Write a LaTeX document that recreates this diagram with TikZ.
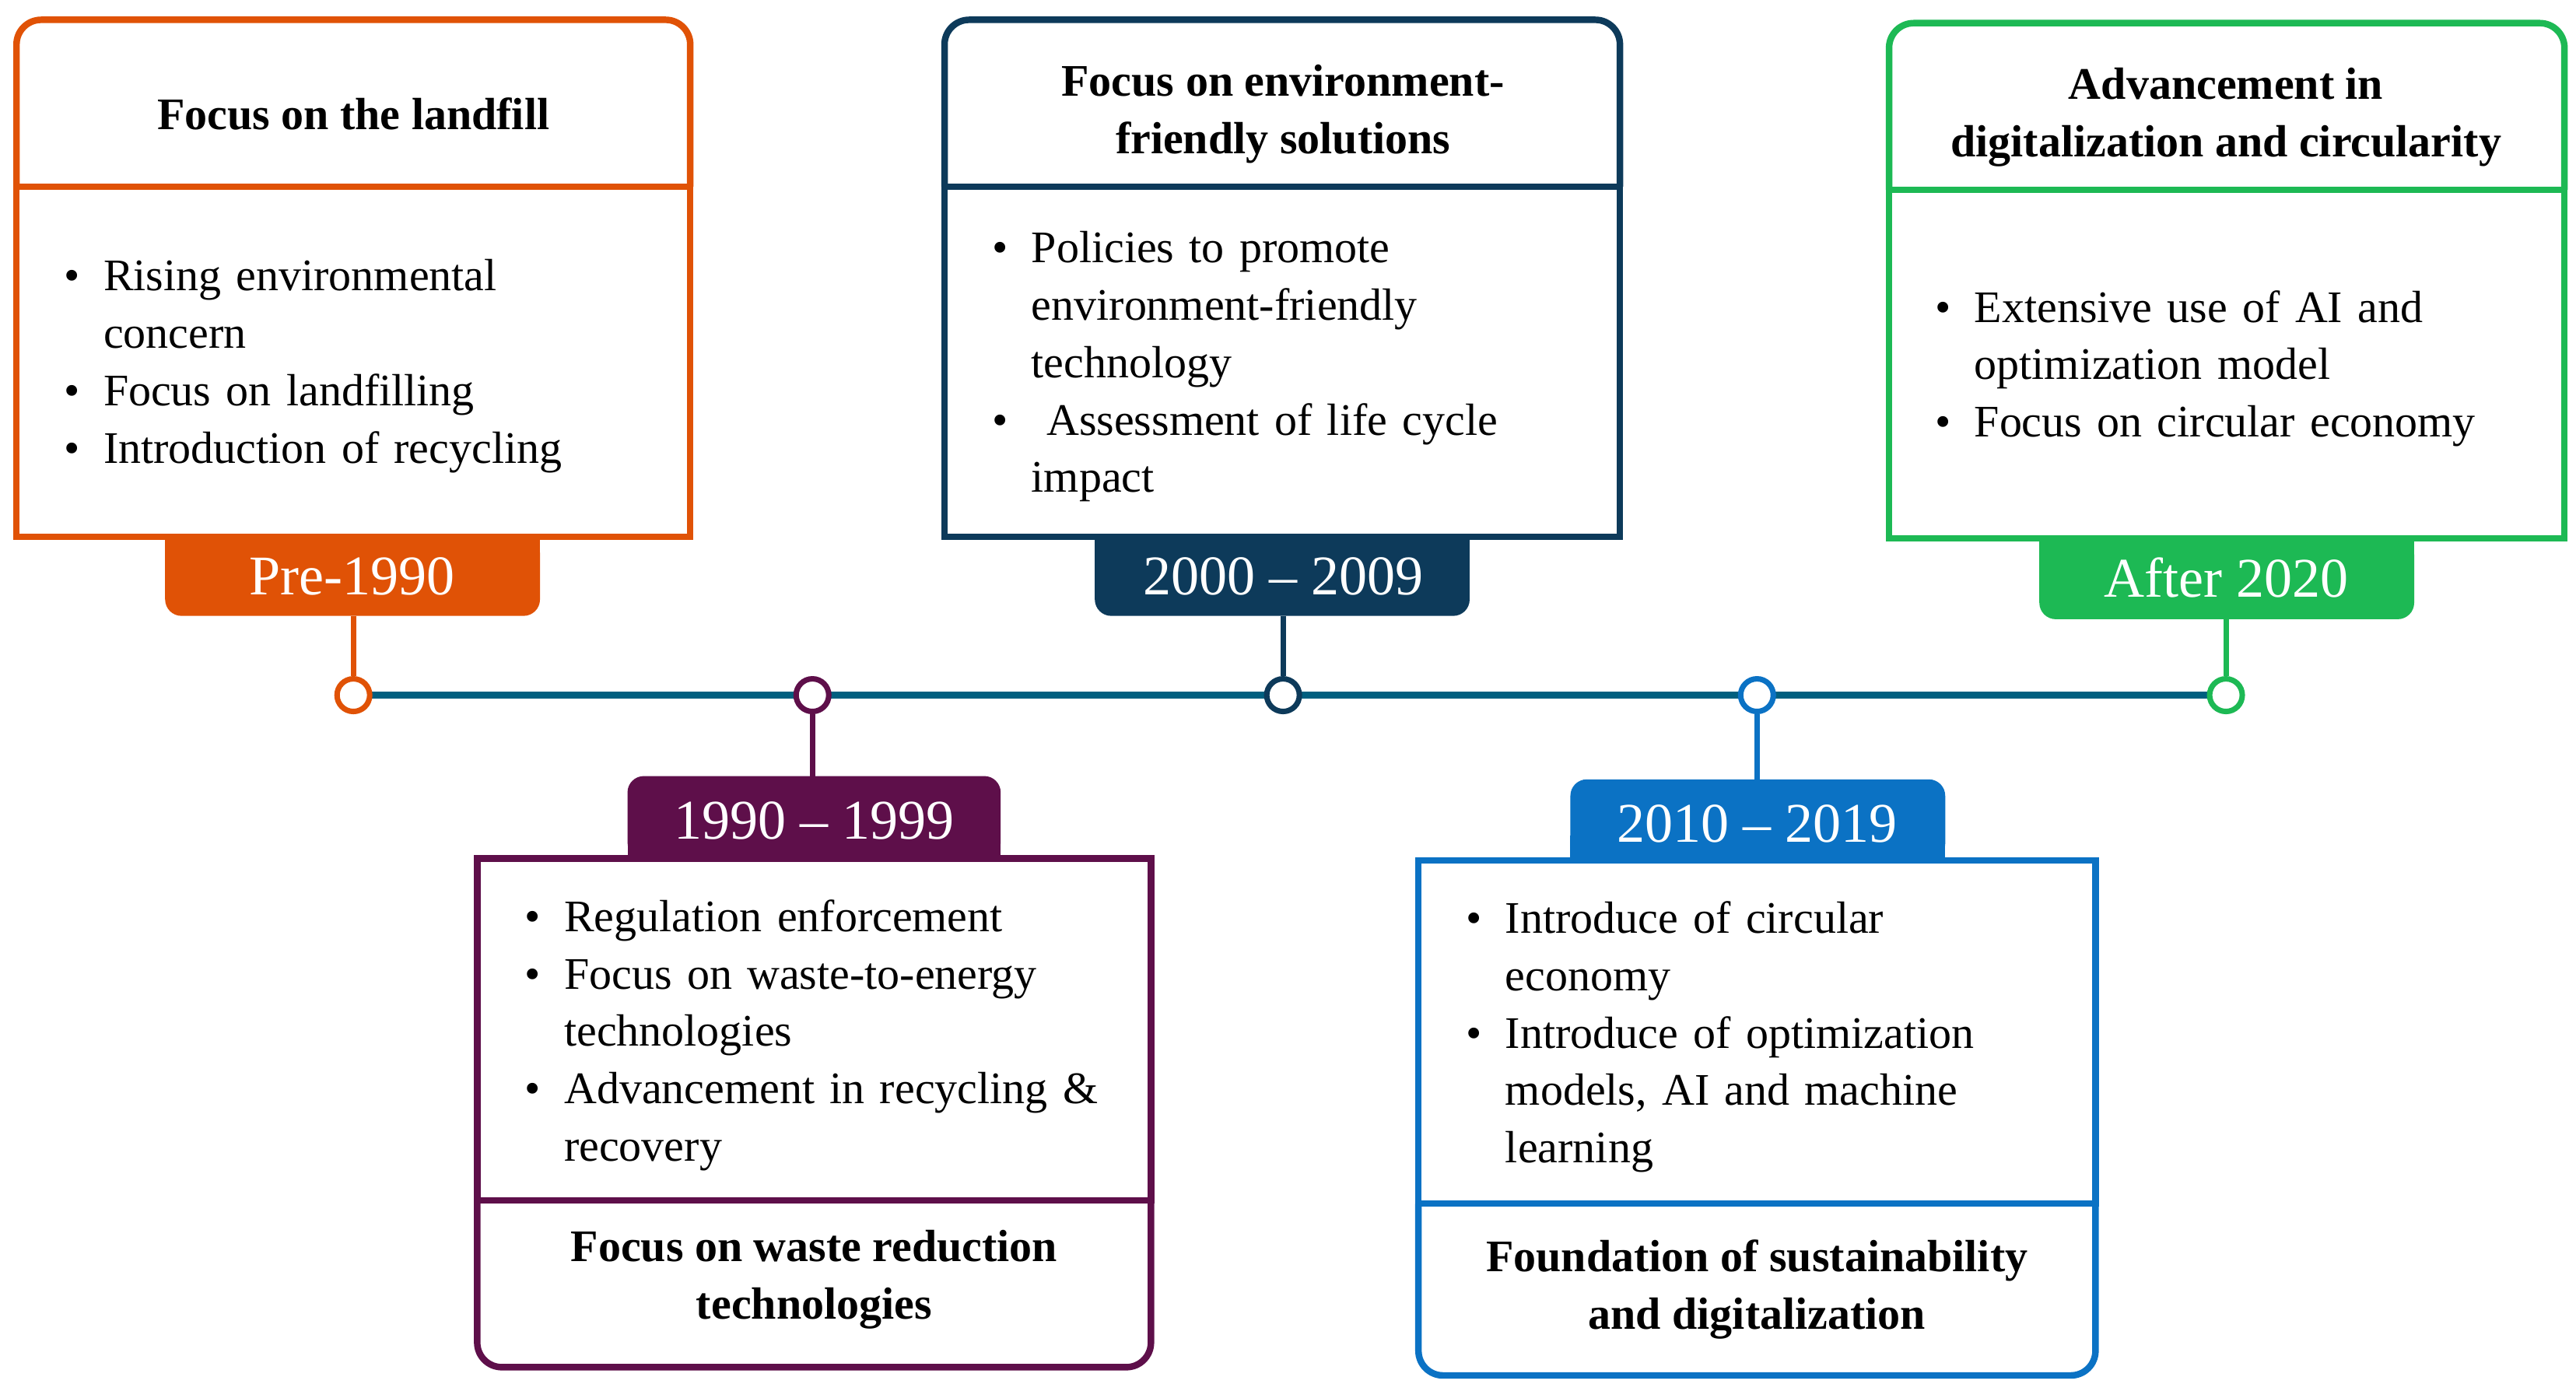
\documentclass[tikz,border=0pt]{standalone}
\usepackage{fontspec}
\setmainfont{Liberation Serif}
\usepackage{enumitem}
\definecolor{corange}{HTML}{E05206}
\definecolor{cnavy}{HTML}{0D3A5A}
\definecolor{cgreen}{HTML}{1DB954}
\definecolor{cpurple}{HTML}{5E0F4A}
\definecolor{cblue}{HTML}{0B72C4}
\definecolor{cline}{HTML}{005F7F}
\newcommand{\bodyfont}{\fontsize{16.5}{21}\selectfont}
\newcommand{\titlefont}{\fontsize{16.5}{21}\selectfont\bfseries}
\newcommand{\yearfont}{\fontsize{20.5}{24}\selectfont}
\newenvironment{blist}{\raggedright\begin{itemize}[leftmargin=0.75cm,labelsep=0.3cm,nosep]}{\end{itemize}}
\tikzset{
  frame/.style={line width=2.4pt},
  body/.style={anchor=north west,inner sep=0pt,align=left,text width=8cm,font=\bodyfont},
  title/.style={align=center,font=\titlefont,inner sep=0pt},
  year/.style={text=white,font=\yearfont,inner sep=0pt},
  dot/.style={circle,draw,fill=white,line width=2pt,minimum size=0.42cm,inner sep=0pt},
}
\begin{document}
\begin{tikzpicture}[x=0.021225cm,y=-0.021225cm]
\useasboundingbox (0,0) rectangle (1560,842);
% timeline
\draw[cline,line width=2.6pt] (214,421) -- (1348,421);
% ---------- Box 1 (orange)
\draw[frame,corange,rounded corners=9] (10,113) |- (214,12) -| (418,113);
\draw[frame,corange] (10,113) rectangle (418,325);
\fill[corange,rounded corners=6] (100,325) -- (100,373) -- (327,373) -- (327,325) -- cycle;
\fill[corange] (100,325) rectangle (327,340);
\node[year] (y1) at (213,349) {Pre-1990};
\node[title] (t1) at (214,69) {Focus on the landfill};
\node[body] (b1) at (27,141) {\begin{blist}
\item Rising environmental\newline concern
\item Focus on landfilling
\item Introduction of recycling
\end{blist}};
\node[dot,draw=corange] (d1) at (214,421) {};
\draw[corange,line width=2pt] (214,373) -- (d1);
% ---------- Box 2 (navy)
\draw[frame,cnavy,rounded corners=9] (572,113) |- (777,12) -| (981,113);
\draw[frame,cnavy] (572,113) rectangle (981,325);
\fill[cnavy,rounded corners=6] (663,325) -- (663,373) -- (890,373) -- (890,325) -- cycle;
\fill[cnavy] (663,325) rectangle (890,340);
\node[year] (y2) at (777,349) {2000 -- 2009};
\node[title] (t2) at (777,69) {Focus on environment-\\friendly solutions};
\node[body] (b2) at (589,124) {\begin{blist}
\item Policies to promote\newline environment-friendly\newline technology
\item \ Assessment of life cycle\newline impact
\end{blist}};
\node[dot,draw=cnavy] (d2) at (777,421) {};
\draw[cnavy,line width=2pt] (777,373) -- (d2);
% ---------- Box 3 (green)
\draw[frame,cgreen,rounded corners=9] (1144,115) |- (1348,14) -| (1553,115);
\draw[frame,cgreen] (1144,115) rectangle (1553,326);
\fill[cgreen,rounded corners=6] (1235,326) -- (1235,375) -- (1462,375) -- (1462,326) -- cycle;
\fill[cgreen] (1235,326) rectangle (1462,341);
\node[year] (y3) at (1348,350) {After 2020};
\node[title] (t3) at (1348,71) {Advancement in\\digitalization and circularity};
\node[body] (b3) at (1160,160) {\begin{blist}
\item Extensive use of AI and\newline optimization model
\item Focus on circular economy
\end{blist}};
\node[dot,draw=cgreen] (d3) at (1348,421) {};
\draw[cgreen,line width=2pt] (1348,375) -- (d3);
% ---------- Box 4 (purple)
\fill[cpurple,rounded corners=6] (380,520) -- (380,470) -- (606,470) -- (606,520) -- cycle;
\fill[cpurple] (380,505) rectangle (606,520);
\node[year] (y4) at (493,497) {1990 -- 1999};
\draw[frame,cpurple] (289,520) rectangle (697,727);
\draw[frame,cpurple,rounded corners=9] (289,727) |- (493,828) -| (697,727);
\node[title] (t4) at (493,775) {Focus on waste reduction\\technologies};
\node[body] (b4) at (306,529) {\begin{blist}
\item Regulation enforcement
\item Focus on waste-to-energy\newline technologies
\item Advancement in recycling \&\newline recovery
\end{blist}};
\node[dot,draw=cpurple] (d4) at (492,421) {};
\draw[cpurple,line width=2pt] (d4) -- (492,470);
% ---------- Box 5 (blue)
\fill[cblue,rounded corners=6] (951,521) -- (951,472) -- (1178,472) -- (1178,521) -- cycle;
\fill[cblue] (951,506) rectangle (1178,521);
\node[year] (y5) at (1064,499) {2010 -- 2019};
\draw[frame,cblue] (859,521) rectangle (1269,729);
\draw[frame,cblue,rounded corners=9] (859,729) |- (1064,833) -| (1269,729);
\node[title] (t5) at (1064,781) {Foundation of sustainability\\and digitalization};
\node[body] (b5) at (876,530) {\begin{blist}
\item Introduce of circular\newline economy
\item Introduce of optimization\newline models, AI and machine\newline learning
\end{blist}};
\node[dot,draw=cblue] (d5) at (1064,421) {};
\draw[cblue,line width=2pt] (d5) -- (1064,472);
\end{tikzpicture}
\end{document}
